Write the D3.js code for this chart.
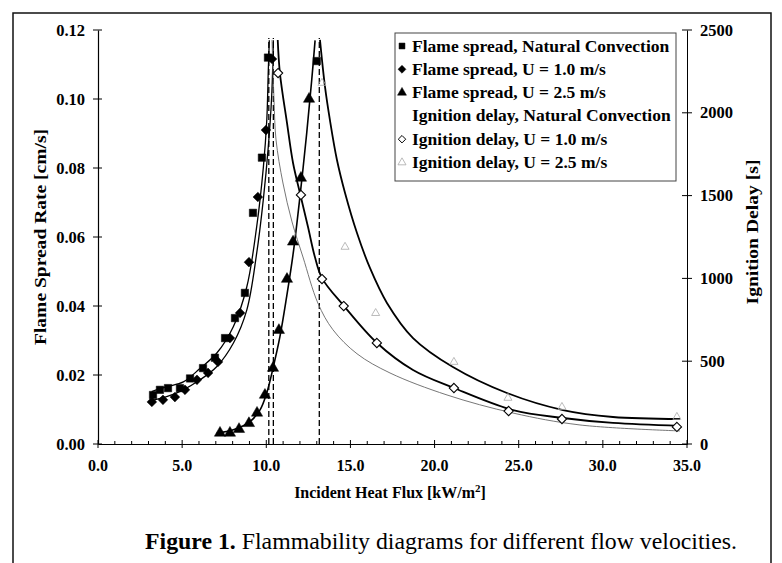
<!DOCTYPE html>
<html><head><meta charset="utf-8">
<script src="https://cdn.jsdelivr.net/npm/d3@7"></script>
<style>body{margin:0;background:#fff}svg{display:block}</style>
</head><body>
<svg id="c" width="782" height="563"></svg>
<script>
// ---- data ----
const xTicks = [0,5,10,15,20,25,30,35];
const yLeftTicks = [0,0.02,0.04,0.06,0.08,0.10,0.12];
const yRightTicks = [0,500,1000,1500,2000,2500];
const legendLabels = ["Flame spread, Natural Convection","Flame spread, U = 1.0 m/s","Flame spread, U = 2.5 m/s","Ignition delay, Natural Convection","Ignition delay, U = 1.0 m/s","Ignition delay, U = 2.5 m/s"];
const criticalFlux = [10.15, 10.42, 13.15];

// flame spread rate [cm/s]
const flameNatural = [[3.27,0.0142],[3.68,0.0157],[4.16,0.0162],[4.87,0.0162],[5.47,0.019],[6.24,0.022],[6.95,0.025],[7.55,0.0307],[8.14,0.0365],[8.73,0.0438],[9.21,0.067],[9.74,0.083],[10.1,0.112],[13.0,0.111]];
const flameU10 = [[3.2,0.0122],[3.86,0.0128],[4.57,0.0136],[5.17,0.0157],[5.88,0.0186],[6.54,0.0206],[7.13,0.0238],[7.84,0.0307],[8.44,0.038],[8.97,0.0527],[9.5,0.0716],[9.98,0.091],[10.34,0.1116]];
const flameU25 = [[7.25,0.0032],[7.84,0.0032],[8.38,0.0043],[8.97,0.006],[9.45,0.009],[9.92,0.0142],[10.4,0.022],[10.75,0.033],[11.23,0.0478],[11.59,0.0586],[12.06,0.0771],[12.54,0.100]];
// ignition delay [s]
const ignU10 = [[10.7,2240],[12.06,1504],[13.31,996],[14.6,833],[16.57,610],[21.15,338],[24.4,199],[27.57,151],[34.4,103]];
const ignU25 = [[13.31,2180],[14.68,1190],[16.5,790],[21.15,495],[24.36,278],[27.57,223],[34.4,163]];

// fitted curves
const fitFlameNatural = [[3.19,0.0152],[4.08,0.0166],[5.07,0.018],[6.06,0.0219],[7.05,0.0263],[8.04,0.034],[8.84,0.0455],[9.43,0.063],[9.83,0.0804],[10.03,0.0939],[10.12,0.1084],[10.18,0.117]];
const fitFlameU10 = [[3.29,0.01275],[4.08,0.0137],[5.07,0.0157],[6.06,0.0186],[7.05,0.0224],[8.04,0.0292],[8.84,0.0388],[9.43,0.0553],[9.82,0.0707],[10.12,0.0862],[10.32,0.1007],[10.42,0.117]];
const fitFlameU25 = [[7.05,0.0031],[8.04,0.0041],[9.03,0.0065],[9.63,0.0099],[10.02,0.0147],[10.42,0.0224],[10.81,0.0311],[11.21,0.0427],[11.6,0.0553],[12.0,0.0717],[12.4,0.09],[12.7,0.1055],[12.9,0.117]];
const fitIgnNatural = [[10.34,2440],[10.46,2077],[10.58,1836],[10.99,1576],[11.53,1341],[12.18,1129],[13.07,850],[13.96,690],[15.39,545],[17.35,429],[20.74,296],[24.66,187],[28.64,115],[34.58,79]];
const fitIgnU10 = [[10.68,2440],[10.81,2240],[11.23,1939],[11.59,1697],[12.0,1516],[12.48,1310],[12.89,1129],[13.31,1002],[14.62,833],[16.58,610],[18.72,447],[21.15,338],[24.66,205],[27.63,157],[30.6,127],[34.58,109]];
const fitIgnU25 = [[13.19,2440],[13.49,2156],[13.78,1957],[14.2,1715],[14.68,1516],[15.39,1274],[16.16,1063],[17.17,852],[18.72,640],[21.09,465],[24.3,308],[27.63,205],[30.6,163],[34.58,151]];

// ---- drawing ----
const svg = d3.select("#c");
const FONT = "'Liberation Serif','Times New Roman',serif";
const L = 98, R = 687, T = 30, B = 444;
const x = d3.scaleLinear().domain([0,35]).range([L,R]);
const yL = d3.scaleLinear().domain([0,0.12]).range([B,T]);
const yR = d3.scaleLinear().domain([0,2500]).range([B,T]);

// outer frame
svg.append("path").attr("d","M13,563 L13,13 L771,13 L771,563").attr("fill","none").attr("stroke","#111").attr("stroke-width",1.5);

const txt = (sel) => sel.attr("font-family",FONT).attr("font-weight","bold").attr("fill","#000");

// axes
const gx = svg.append("g").attr("transform",`translate(0,${B})`);
gx.call(d3.axisBottom(x).tickValues(xTicks).tickSize(0).tickFormat(""));
gx.selectAll(".domain").attr("stroke","#000").attr("stroke-width",1.2);
gx.selectAll(".minor").data(d3.range(0,36,1)).enter().append("line")
  .attr("x1",d=>x(d)).attr("x2",d=>x(d)).attr("y1",d=>d%5===0?4:0).attr("y2",d=>d%5===0?-4:-3)
  .attr("stroke","#000").attr("stroke-width",1);
txt(gx.selectAll(".lab").data(xTicks).enter().append("text")
  .attr("x",d=>x(d)).attr("y",27).attr("text-anchor","middle").attr("font-size",16)).text(d=>d.toFixed(1));

const gyl = svg.append("g").attr("transform",`translate(${L},0)`);
gyl.call(d3.axisLeft(yL).tickValues(yLeftTicks).tickSize(0).tickFormat(""));
gyl.selectAll(".domain").attr("stroke","#000").attr("stroke-width",1.2);
gyl.selectAll(".tk").data(yLeftTicks).enter().append("line")
  .attr("x1",-5).attr("x2",4).attr("y1",d=>yL(d)).attr("y2",d=>yL(d)).attr("stroke","#000");
txt(gyl.selectAll(".lab").data(yLeftTicks).enter().append("text")
  .attr("x",-13).attr("y",d=>yL(d)+5.5).attr("text-anchor","end").attr("font-size",16.5)).text(d=>d.toFixed(2));

const gyr = svg.append("g").attr("transform",`translate(${R},0)`);
gyr.call(d3.axisRight(yR).tickValues(yRightTicks).tickSize(0).tickFormat(""));
gyr.selectAll(".domain").attr("stroke","#000").attr("stroke-width",1);
gyr.selectAll(".tk").data(yRightTicks).enter().append("line")
  .attr("x1",-5).attr("x2",5).attr("y1",d=>yR(d)).attr("y2",d=>yR(d)).attr("stroke","#000");
txt(gyr.selectAll(".lab").data(yRightTicks).enter().append("text")
  .attr("x",13).attr("y",d=>yR(d)+5.5).attr("text-anchor","start").attr("font-size",16.5)).text(d=>d);

// axis titles
txt(svg.append("text").attr("transform","translate(46,237) rotate(-90)").attr("text-anchor","middle")
  .attr("font-size",16).attr("textLength",216).attr("lengthAdjust","spacingAndGlyphs")).text("Flame Spread Rate [cm/s]");
txt(svg.append("text").attr("transform","translate(758,232) rotate(-90)").attr("text-anchor","middle")
  .attr("font-size",16).attr("textLength",145).attr("lengthAdjust","spacingAndGlyphs")).text("Ignition Delay [s]");
const xt = txt(svg.append("text").attr("x",390).attr("y",498).attr("text-anchor","middle").attr("font-size",16));
xt.append("tspan").text("Incident Heat Flux [kW/m");
xt.append("tspan").attr("dy",-6).attr("font-size",11).text("2");
xt.append("tspan").attr("dy",6).text("]");

// caption
const cap = svg.append("text").attr("x",441).attr("y",549).attr("text-anchor","middle")
  .attr("font-family",FONT).attr("font-size",23.8).attr("fill","#000");
cap.append("tspan").attr("font-weight","bold").text("Figure 1.");
cap.append("tspan").text(" Flammability diagrams for different flow velocities.");

// critical flux dashed lines
svg.selectAll(".crit").data(criticalFlux).enter().append("line")
  .attr("x1",d=>x(d)).attr("x2",d=>x(d)).attr("y1",B).attr("y2",38)
  .attr("stroke","#000").attr("stroke-width",1.3).attr("stroke-dasharray","6,3");

// curves
const lineL = d3.line().x(d=>x(d[0])).y(d=>yL(d[1])).curve(d3.curveCatmullRom.alpha(0.5));
const lineR = d3.line().x(d=>x(d[0])).y(d=>yR(d[1])).curve(d3.curveCatmullRom.alpha(0.5));
const curve = (data, gen, w, col) => svg.append("path").datum(data).attr("d",gen).attr("fill","none").attr("stroke",col).attr("stroke-width",w);
curve(fitFlameNatural, lineL, 1.3, "#000");
curve(fitFlameU10, lineL, 1.3, "#000");
curve(fitFlameU25, lineL, 1.6, "#000");
curve(fitIgnNatural, lineR, 0.9, "#666");
curve(fitIgnU10, lineR, 1.8, "#000");
curve(fitIgnU25, lineR, 1.8, "#000");

// markers
const sym = (type, size) => d3.symbol().type(type).size(size)();
function marks(data, ys, type, size, fill, stroke, sw){
  svg.append("g").selectAll("path").data(data).enter().append("path")
    .attr("d", sym(type,size)).attr("transform",d=>`translate(${x(d[0])},${ys(d[1])})`)
    .attr("fill",fill).attr("stroke",stroke).attr("stroke-width",sw);
}
const diamond = d3.symbolDiamond2 || d3.symbolDiamond;
marks(flameNatural, yL, d3.symbolSquare, 55, "#000", "#000", 0.5);
marks(flameU10, yL, diamond, 60, "#000", "#000", 0.5);
marks(flameU25, yL, d3.symbolTriangle, 55, "#000", "#000", 0.5);
marks(ignU10, yR, diamond, 55, "#fff", "#000", 1.1);
marks(ignU25, yR, d3.symbolTriangle, 28, "none", "#aaa", 0.8);

// legend
const lg = svg.append("g");
lg.append("rect").attr("x",395).attr("y",33).attr("width",281).attr("height",148)
  .attr("fill","#fff").attr("stroke","#444").attr("stroke-width",1);
const legSym = [[d3.symbolSquare,35,"#000","#000",0.5],[diamond,40,"#000","#000",0.5],[d3.symbolTriangle,35,"#000","#000",0.5],null,[diamond,35,"#fff","#000",1],[d3.symbolTriangle,28,"none","#aaa",0.8]];
legendLabels.forEach((t,i)=>{
  const yy = 46 + i*23.3;
  const s = legSym[i];
  if (s) lg.append("path").attr("d",sym(s[0],s[1])).attr("transform",`translate(402,${yy})`)
    .attr("fill",s[2]).attr("stroke",s[3]).attr("stroke-width",s[4]);
  txt(lg.append("text").attr("x",412).attr("y",yy+5.5).attr("font-size",17.5)).text(t);
});
</script>
</body></html>
